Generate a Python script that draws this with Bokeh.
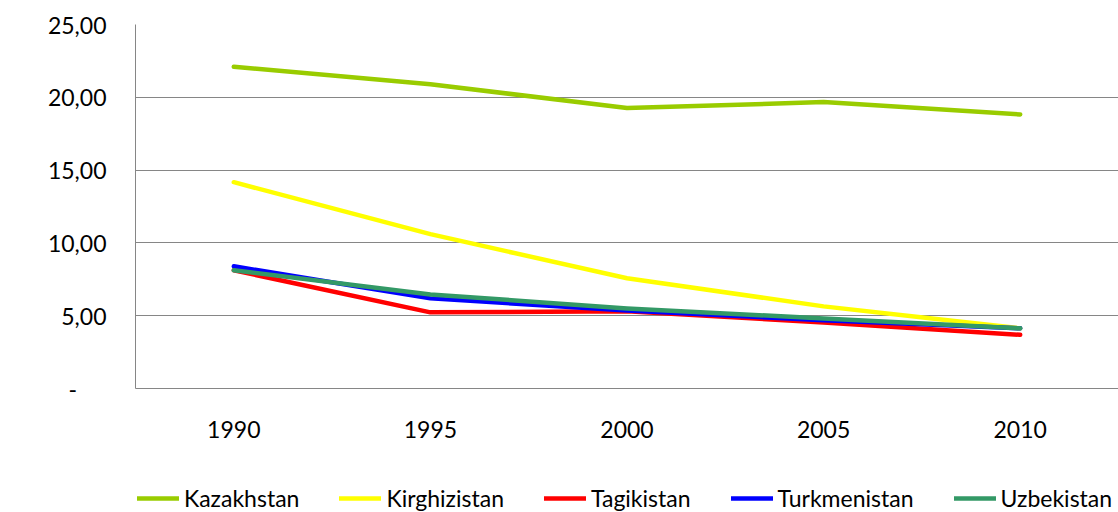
from bokeh.plotting import figure
from bokeh.layouts import column
from bokeh.models import FactorRange, Range1d, FixedTicker, Legend, LegendItem
from bokeh.embed import file_html
from bokeh.resources import INLINE

years = ["1990", "1995", "2000", "2005", "2010"]
kazakhstan = [22.10, 20.90, 19.26, 19.67, 18.82]
kirghizistan = [14.17, 10.60, 7.57, 5.64, 4.13]
tagikistan = [8.12, 5.23, 5.30, 4.54, 3.69]
turkmenistan = [8.39, 6.19, 5.36, 4.68, 4.13]
uzbekistan = [8.12, 6.46, 5.50, 4.81, 4.13]

series = [
    ("Kazakhstan", kazakhstan, "#99CC00"),
    ("Kirghizistan", kirghizistan, "#FFFF00"),
    ("Tagikistan", tagikistan, "#FF0000"),
    ("Turkmenistan", turkmenistan, "#0000FF"),
    ("Uzbekistan", uzbekistan, "#339966"),
]

y_ticks = [0, 5, 10, 15, 20, 25]
y_labels = {0: "-\u00a0\u00a0\u00a0\u00a0\u00a0", 5: "5,00", 10: "10,00", 15: "15,00", 20: "20,00", 25: "25,00"}

FONT = "Lato"

p = figure(frame_width=983, frame_height=364, x_range=FactorRange(*years, range_padding=0),
           y_range=Range1d(0, 25), output_backend="svg", toolbar_location=None,
           min_border_left=135, min_border_right=0, min_border_top=24, min_border_bottom=72)

p.outline_line_color = None
p.background_fill_color = "white"
p.xgrid.grid_line_color = None
p.ygrid.grid_line_color = "#868686"
p.ygrid.grid_line_width = 1
p.ygrid.ticker = FixedTicker(ticks=y_ticks)

p.yaxis.ticker = FixedTicker(ticks=y_ticks)
p.yaxis.major_label_overrides = y_labels
for ax in (p.xaxis, p.yaxis):
    ax.axis_line_color = "#868686"
    ax.axis_line_width = 1
    ax.major_tick_line_color = None
    ax.minor_tick_line_color = None
    ax.major_label_text_font = FONT
    ax.major_label_text_font_size = "23px"
    ax.major_label_text_color = "#000000"
p.yaxis.major_label_standoff = 23
p.xaxis.major_label_standoff = 26

for name, vals, color in series:
    p.line(years, vals, line_color=color, line_width=4.5, line_cap="round", line_join="round")

# Legend strip below the chart (lines drawn off-screen, only their legend entries show)
pl = figure(width=1118, height=52, x_range=FactorRange(*years, range_padding=0),
            y_range=Range1d(100, 101), output_backend="svg", toolbar_location=None,
            x_axis_location=None, y_axis_location=None, min_border=0)
pl.outline_line_color = None
pl.xgrid.grid_line_color = None
pl.ygrid.grid_line_color = None

items = []
for name, vals, color in series:
    r = pl.line(years, vals, line_color=color, line_width=4.5, line_cap="round")
    items.append(LegendItem(label=name, renderers=[r]))

legend = Legend(items=items, orientation="horizontal", location=(2, 0),
                glyph_width=42, glyph_height=20, label_standoff=5, spacing=40,
                padding=0, margin=0, border_line_color=None, background_fill_alpha=0,
                label_text_font=FONT, label_text_font_size="23px", label_text_color="#000000")
pl.add_layout(legend, "center")

layout = column(p, pl, spacing=0)
open("out.html", "w").write(file_html(layout, INLINE))
